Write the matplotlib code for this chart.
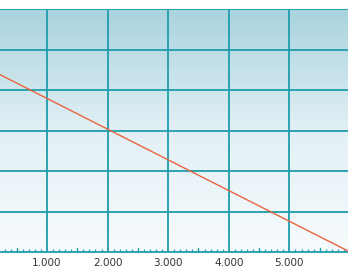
import numpy as np
import matplotlib.pyplot as plt
from matplotlib.colors import LinearSegmentedColormap
from matplotlib.ticker import FixedLocator, FuncFormatter

# data
line_x = [0, 6000]
line_y = [4.55, 0]
x_ticks = [1000, 2000, 3000, 4000, 5000]
y_grid = [1, 2, 3, 4, 5, 6]

grid_col = '#1e9dad'
line_col = '#e8653f'

fig = plt.figure(figsize=(3.48, 2.68), dpi=100)
ax = fig.add_axes([0, 16 / 268, 1, 243 / 268])
ax.set_xlim(225, 5967)
ax.set_ylim(0, 6)

# gradient background
cmap = LinearSegmentedColormap.from_list('bg', ['#f7fbfd', '#e2f0f5', '#a9d3de'])
grad = np.linspace(0, 1, 256).reshape(-1, 1)
ax.imshow(grad, extent=[0, 1, 0, 1], transform=ax.transAxes, origin='lower',
          cmap=cmap, aspect='auto', zorder=0)

for yv in y_grid:
    ax.axhline(yv, color=grid_col, lw=1.3, zorder=1)
for xv in x_ticks:
    ax.axvline(xv, color=grid_col, lw=1.3, zorder=1)

ax.plot(line_x, line_y, color=line_col, lw=1.0, zorder=3)

for s in ['left', 'right', 'top']:
    ax.spines[s].set_visible(False)
ax.spines['bottom'].set_color(grid_col)
ax.spines['bottom'].set_linewidth(1.3)

ax.set_yticks([])
ax.set_xticks(x_ticks)
ax.xaxis.set_major_formatter(FuncFormatter(lambda v, p: f'{int(v):,}'.replace(',', '.')))
ax.tick_params(axis='x', which='major', direction='in', length=0, pad=4,
               labelsize=7.5, labelcolor='#333333')
minor = [m for m in range(0, 6001, 100) if m % 1000 != 0]
ax.xaxis.set_minor_locator(FixedLocator(minor))
ax.tick_params(axis='x', which='minor', direction='in', length=2, width=0.9,
               color=grid_col)
# slightly longer tick at half-thousands
for m in range(500, 6000, 1000):
    ax.plot([m, m], [0, 0.09], color=grid_col, lw=0.9, zorder=2, clip_on=False)

fig.savefig('out.png', dpi=100)
